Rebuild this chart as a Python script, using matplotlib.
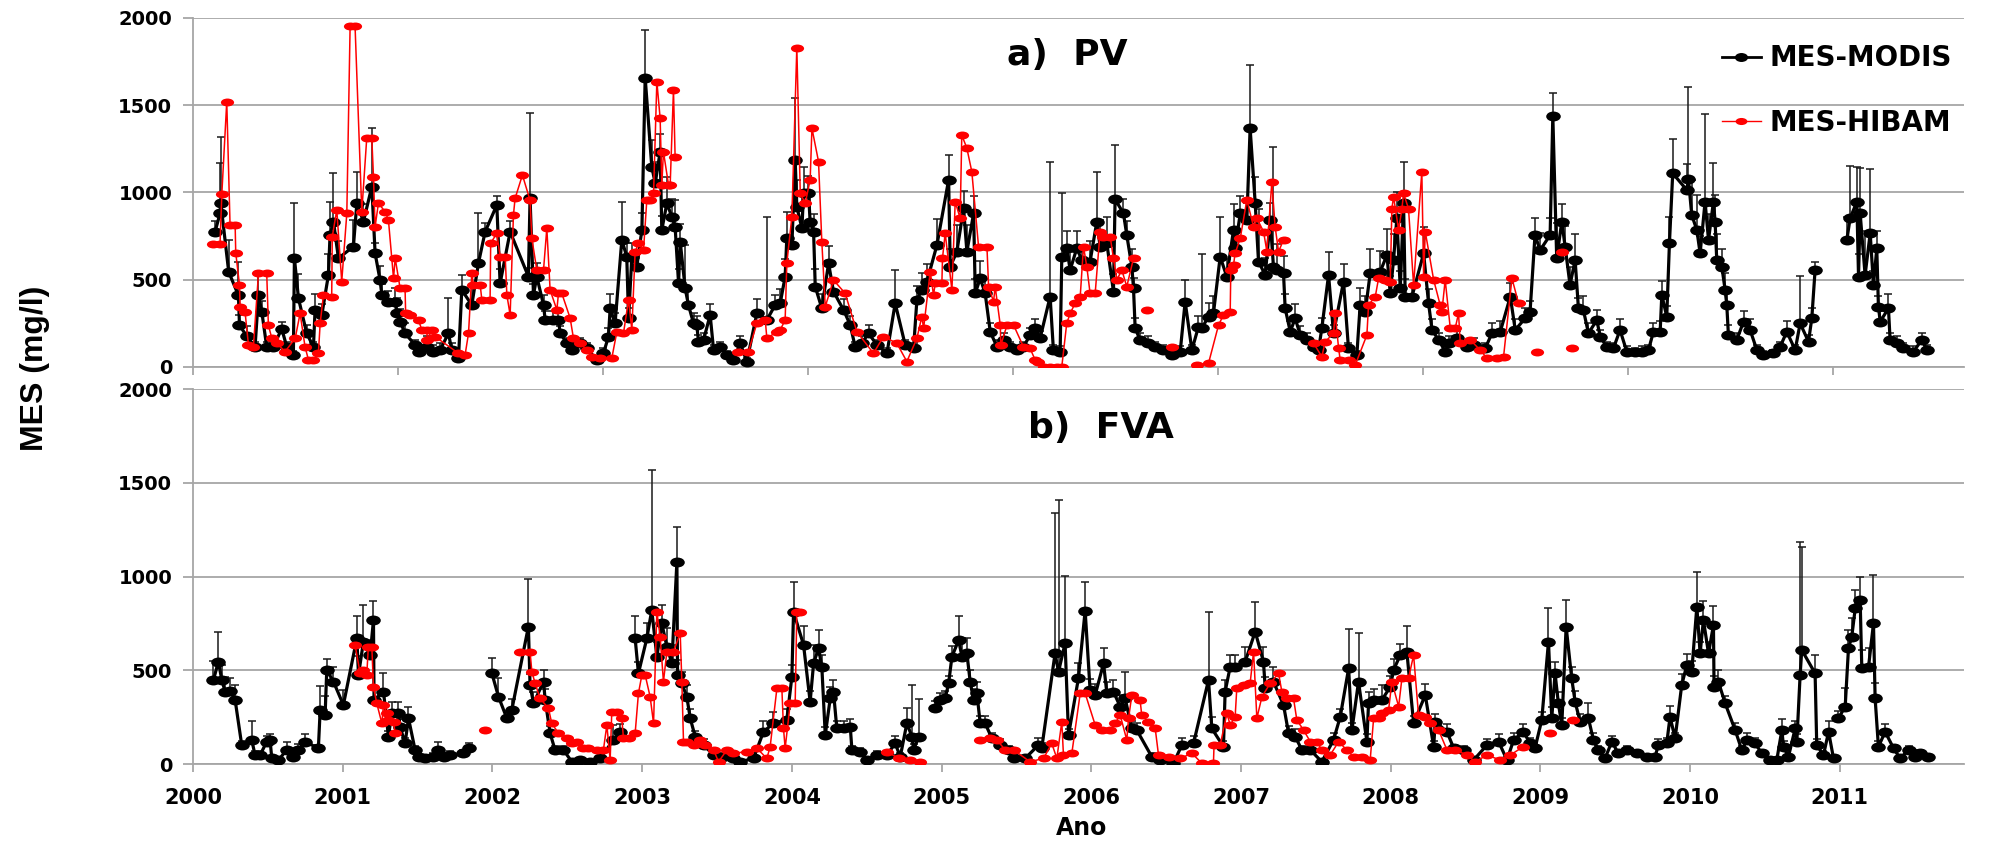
import numpy as np
import matplotlib
matplotlib.use("Agg")
import matplotlib.pyplot as plt
from matplotlib.path import Path
from matplotlib.lines import Line2D

# ---- data: (decimal year, MES mg/l, upper error) ----
# None rows mark breaks in the series line
pv_modis = [
    (2000.147, 775, 60), (2000.180, 880, 290), (2000.185, 940, 380), (2000.238, 545, 180), (2000.303, 410, 190),
    (2000.310, 240, 60), (2000.359, 175, 60), (2000.414, 115, 30), (2000.437, 410, 120), (2000.459, 317, 60),
    (2000.492, 115, 30), (2000.537, 115, 30), (2000.592, 220, 40), (2000.626, 115, 30), (2000.670, 69, 20),
    (2000.677, 623, 315), (2000.704, 393, 140), (2000.759, 193, 50), (2000.804, 115, 30), (2000.815, 327, 90),
    (2000.860, 298, 60), (2000.904, 527, 120), (2000.915, 756, 190), (2000.938, 833, 277), (2000.971, 623, 100),
    (2001.071, 690, 150), (2001.094, 938, 181), (2001.138, 833, 100), (2001.194, 1033, 335), (2001.216, 651, 60),
    (2001.249, 498, 80), (2001.261, 413, 60), (2001.305, 374, 60), (2001.350, 374, 80), (2001.361, 307, 90),
    (2001.383, 260, 70), (2001.416, 193, 60), (2001.483, 126, 30), (2001.506, 88, 20), (2001.561, 115, 60),
    (2001.606, 88, 40), (2001.650, 97, 40), (2001.706, 193, 200), (2001.728, 97, 40), (2001.773, 50, 20),
    (2001.795, 441, 86), (2001.862, 355, 110), (2001.906, 594, 286), (2001.951, 775, 50), (2002.029, 928, 50),
    (2002.051, 479, 80), (2002.118, 775, 60), (2002.240, 518, 50), (2002.251, 966, 487), (2002.274, 413, 60),
    (2002.296, 518, 80), (2002.341, 355, 60), (2002.352, 269, 50), (2002.407, 269, 50), (2002.441, 269, 40),
    (2002.452, 193, 40), (2002.497, 136, 30), (2002.530, 97, 30), (2002.586, 136, 30), (2002.630, 107, 30),
    (2002.697, 40, 20), (2002.741, 78, 30), (2002.775, 174, 50), (2002.786, 336, 80), (2002.819, 250, 60),
    (2002.864, 728, 219), (2002.897, 632, 80), (2002.909, 279, 60), (2002.931, 632, 80), (2002.964, 575, 80),
    (2002.998, 785, 100), (2003.020, 1658, 273), (2003.064, 1148, 150), (2003.087, 1052, 120), (2003.120, 1234, 100),
    (2003.131, 785, 80), (2003.165, 938, 150), (2003.198, 861, 100), (2003.220, 804, 150), (2003.243, 479, 80),
    (2003.254, 718, 100), (2003.287, 451, 250), (2003.309, 355, 100), (2003.343, 250, 60), (2003.365, 240, 50),
    (2003.376, 145, 40), (2003.410, 155, 40), (2003.454, 298, 60), (2003.477, 97, 30), (2003.521, 115, 30),
    (2003.566, 69, 20), (2003.610, 40, 20), (2003.655, 136, 40), (2003.699, 31, 20), (2003.766, 307, 80),
    (2003.833, 269, 590), (2003.888, 355, 60), (2003.922, 365, 80), (2003.955, 518, 100), (2003.966, 737, 150),
    (2004.000, 699, 150), (2004.022, 1186, 353), (2004.033, 919, 150), (2004.067, 795, 200), (2004.078, 995, 150),
    (2004.111, 995, 100), (2004.122, 833, 150), (2004.145, 775, 100), (2004.156, 460, 100), (2004.200, 336, 80),
    (2004.245, 594, 100), (2004.278, 432, 80), (2004.345, 327, 60), (2004.390, 240, 50), (2004.423, 115, 30),
    (2004.468, 136, 40), (2004.512, 193, 50), (2004.568, 126, 30), (2004.635, 78, 30), (2004.690, 365, 191),
    (2004.757, 126, 30), (2004.813, 107, 30), (2004.835, 384, 80), (2004.868, 441, 100), (2004.902, 489, 100),
    (2004.969, 699, 150), (2005.047, 1072, 142), (2005.058, 575, 100), (2005.102, 661, 150), (2005.147, 909, 100),
    (2005.169, 661, 150), (2005.214, 880, 100), (2005.225, 422, 80), (2005.258, 508, 100), (2005.291, 422, 80),
    (2005.325, 202, 50), (2005.370, 115, 40), (2005.414, 155, 40), (2005.459, 115, 30), (2005.503, 97, 30),
    (2005.547, 115, 30), (2005.591, 183, 40), (2005.625, 222, 50), (2005.658, 164, 40), (2005.725, 403, 770),
    (2005.747, 97, 30), (2005.792, 88, 30), (2005.803, 632, 367), (2005.836, 680, 100), (2005.859, 556, 100),
    (2005.903, 680, 100), (2005.937, 613, 80), (2005.992, 604, 120), (2006.037, 833, 282), (2006.059, 690, 150),
    (2006.104, 709, 150), (2006.148, 432, 100), (2006.159, 961, 311), (2006.215, 880, 80), (2006.237, 756, 80),
    (2006.271, 575, 100), (2006.282, 451, 60), (2006.293, 222, 60), (2006.326, 155, 40), (2006.382, 136, 40),
    (2006.427, 115, 30), (2006.482, 97, 30), (2006.538, 69, 20), (2006.594, 88, 30), (2006.627, 374, 125),
    (2006.672, 97, 30), (2006.716, 231, 60), (2006.738, 222, 424), (2006.783, 288, 80), (2006.816, 307, 100),
    (2006.861, 632, 229), (2006.905, 518, 100), (2006.950, 785, 150), (2006.961, 680, 100), (2006.995, 880, 100),
    (2007.039, 842, 100), (2007.061, 1368, 363), (2007.095, 938, 150), (2007.117, 604, 300), (2007.162, 527, 100),
    (2007.195, 842, 100), (2007.217, 575, 687), (2007.240, 556, 150), (2007.284, 537, 100), (2007.295, 336, 80),
    (2007.329, 202, 60), (2007.362, 279, 80), (2007.396, 183, 50), (2007.440, 155, 40), (2007.485, 115, 30),
    (2007.518, 97, 30), (2007.540, 222, 60), (2007.585, 527, 134), (2007.618, 193, 50), (2007.685, 489, 100),
    (2007.718, 107, 30), (2007.774, 69, 20), (2007.796, 355, 100), (2007.830, 317, 90), (2007.863, 537, 140),
    (2007.930, 546, 120), (2007.975, 642, 150), (2007.997, 422, 100), (2008.019, 613, 150), (2008.041, 852, 150),
    (2008.064, 451, 100), (2008.086, 938, 235), (2008.097, 403, 100), (2008.142, 403, 60), (2008.220, 651, 150),
    (2008.253, 365, 80), (2008.276, 212, 60), (2008.320, 155, 40), (2008.365, 88, 30), (2008.387, 136, 40),
    (2008.442, 164, 40), (2008.509, 115, 30), (2008.554, 126, 40), (2008.632, 107, 30), (2008.676, 193, 60),
    (2008.732, 202, 60), (2008.799, 403, 80), (2008.832, 212, 60), (2008.898, 279, 60), (2008.931, 317, 60),
    (2008.964, 756, 100), (2008.998, 669, 100), (2009.065, 756, 100), (2009.083, 1438, 134), (2009.109, 623, 200),
    (2009.143, 833, 100), (2009.165, 690, 120), (2009.198, 470, 100), (2009.232, 613, 150), (2009.254, 336, 60),
    (2009.287, 327, 80), (2009.321, 193, 60), (2009.377, 269, 60), (2009.399, 174, 40), (2009.443, 115, 30),
    (2009.488, 107, 30), (2009.532, 212, 60), (2009.577, 88, 30), (2009.633, 88, 20), (2009.677, 88, 30),
    (2009.722, 97, 30), (2009.755, 202, 50), (2009.800, 202, 60), (2009.811, 413, 80), (2009.844, 288, 60),
    (2009.862, 709, 150), (2009.884, 1110, 195), (2009.978, 1014, 150), (2009.989, 1075, 528), (2010.011, 871, 200),
    (2010.045, 785, 200), (2010.067, 651, 100), (2010.100, 947, 501), (2010.123, 728, 150), (2010.156, 947, 220),
    (2010.167, 833, 150), (2010.178, 613, 150), (2010.212, 575, 100), (2010.234, 441, 100), (2010.245, 355, 80),
    (2010.256, 183, 60), (2010.312, 155, 40), (2010.357, 260, 60), (2010.401, 212, 60), (2010.446, 97, 30),
    (2010.490, 69, 20), (2010.557, 78, 20), (2010.601, 115, 30), (2010.646, 202, 60), (2010.702, 97, 30),
    (2010.735, 250, 270), (2010.791, 145, 40), (2010.813, 279, 60), (2010.835, 556, 48), (2010.940, None, None),
    (2011.047, 728, 130), (2011.069, 852, 300), (2011.114, 947, 200), (2011.125, 518, 130), (2011.136, 880, 260),
    (2011.169, 527, 250), (2011.203, 766, 367), (2011.225, 470, 80), (2011.247, 680, 100), (2011.258, 346, 60),
    (2011.270, 260, 60), (2011.325, 336, 80), (2011.336, 155, 40), (2011.381, 136, 40), (2011.425, 107, 30),
    (2011.492, 88, 30), (2011.548, 155, 40), (2011.581, 97, 30),
]

pv_hibam = [
    (2000.136, 703), (2000.180, 703), (2000.192, 991), (2000.225, 1520), (2000.247, 814), (2000.281, 814),
    (2000.285, 655), (2000.310, 470), (2000.314, 346), (2000.347, 317), (2000.370, 126), (2000.403, 115),
    (2000.437, 537), (2000.492, 537), (2000.503, 240), (2000.526, 164), (2000.559, 136), (2000.615, 88),
    (2000.682, 164), (2000.715, 307), (2000.748, 115), (2000.771, 40), (2000.804, 40), (2000.837, 78),
    (2000.849, 250), (2000.871, 413), (2000.926, 403), (2000.930, 747), (2000.960, 900), (2000.993, 489),
    (2001.027, 880), (2001.049, 1954), (2001.082, 1954), (2001.127, 890), (2001.160, 1310), (2001.194, 1310),
    (2001.205, 1090), (2001.216, 804), (2001.238, 938), (2001.283, 890), (2001.305, 842), (2001.339, 508),
    (2001.350, 623), (2001.383, 451), (2001.416, 451), (2001.420, 307), (2001.450, 298), (2001.506, 269),
    (2001.528, 212), (2001.561, 212), (2001.565, 155), (2001.595, 212), (2001.617, 174), (2001.773, 78),
    (2001.817, 69), (2001.840, 193), (2001.862, 537), (2001.873, 470), (2001.918, 470), (2001.929, 384),
    (2001.984, 384), (2001.988, 709), (2002.029, 766), (2002.051, 632), (2002.085, 632), (2002.096, 413),
    (2002.118, 298), (2002.140, 871), (2002.151, 966), (2002.200, 1100), (2002.251, 955), (2002.263, 737),
    (2002.296, 556), (2002.341, 556), (2002.363, 795), (2002.385, 441), (2002.430, 327), (2002.441, 422),
    (2002.463, 422), (2002.519, 279), (2002.541, 164), (2002.586, 136), (2002.630, 97), (2002.664, 59),
    (2002.719, 50), (2002.797, 50), (2002.831, 202), (2002.875, 193), (2002.909, 384), (2002.931, 212),
    (2002.953, 661), (2002.975, 709), (2003.009, 670), (2003.031, 957), (2003.053, 957), (2003.076, 995),
    (2003.098, 1635), (2003.120, 1425), (2003.131, 1043), (2003.142, 1234), (2003.176, 1043), (2003.187, 1043),
    (2003.209, 1587), (2003.220, 1205), (2003.400, None),
    (2003.643, 88), (2003.710, 88), (2003.766, 250), (2003.822, 269), (2003.833, 164), (2003.900, 202),
    (2003.922, 212), (2003.955, 269), (2003.966, 594), (2004.000, 861), (2004.033, 1830), (2004.056, 995),
    (2004.089, 938), (2004.122, 1072), (2004.134, 1368), (2004.178, 1177), (2004.200, 718), (2004.223, 346),
    (2004.278, 498), (2004.356, 422), (2004.434, 202), (2004.545, 78), (2004.612, 174), (2004.701, 136),
    (2004.768, 31), (2004.835, 164), (2004.868, 288), (2004.880, 222), (2004.924, 546), (2004.946, 413),
    (2004.958, 479), (2005.002, 479), (2005.006, 623), (2005.024, 766), (2005.069, 441), (2005.091, 947),
    (2005.124, 852), (2005.135, 1329), (2005.169, 1253), (2005.202, 1119), (2005.247, 689), (2005.303, 689),
    (2005.314, 460), (2005.347, 374), (2005.358, 460), (2005.392, 240), (2005.396, 126), (2005.437, 240),
    (2005.481, 240), (2005.547, 115), (2005.591, 107), (2005.625, 40), (2005.647, 31), (2005.681, 2),
    (2005.725, 2), (2005.770, 2), (2005.803, 2), (2005.836, 250), (2005.859, 307), (2005.892, 365),
    (2005.926, 403), (2005.948, 690), (2005.970, 575), (2005.992, 422), (2006.026, 422), (2006.059, 775),
    (2006.081, 747), (2006.126, 747), (2006.148, 623), (2006.171, 499), (2006.204, 556), (2006.237, 460),
    (2006.282, 623), (2006.330, None), (2006.371, 327), (2006.450, None), (2006.538, 115), (2006.620, None),
    (2006.705, 11), (2006.783, 21), (2006.850, 240), (2006.883, 298), (2006.928, 317), (2006.932, 556),
    (2006.950, 585), (2006.961, 651), (2006.995, 737), (2007.039, 957), (2007.084, 804), (2007.106, 852),
    (2007.151, 775), (2007.173, 661), (2007.206, 1060), (2007.228, 804), (2007.251, 661), (2007.284, 728),
    (2007.380, None),
    (2007.485, 136), (2007.540, 59), (2007.563, 145), (2007.618, 193), (2007.629, 307), (2007.652, 107),
    (2007.663, 40), (2007.719, 40), (2007.763, 11), (2007.841, 183), (2007.852, 355), (2007.897, 403),
    (2007.919, 508), (2007.964, 499), (2007.997, 489), (2008.008, 907), (2008.019, 976), (2008.053, 785),
    (2008.075, 907), (2008.086, 995), (2008.119, 907), (2008.153, 470), (2008.208, 1119), (2008.220, 518),
    (2008.231, 775), (2008.287, 499), (2008.331, 355), (2008.342, 317), (2008.364, 499), (2008.398, 222),
    (2008.431, 222), (2008.453, 307), (2008.465, 136), (2008.531, 155), (2008.598, 97), (2008.643, 50),
    (2008.709, 50), (2008.754, 59), (2008.810, 508), (2008.854, 365), (2008.900, None), (2008.976, 88),
    (2009.050, None), (2009.143, 661), (2009.180, None), (2009.209, 107),
]

fva_modis = [
    (2000.136, 448, 100), (2000.169, 546, 160), (2000.192, 448, 80), (2000.214, 386, 80), (2000.247, 391, 70),
    (2000.281, 341, 80), (2000.325, 101, 20), (2000.392, 128, 100), (2000.414, 48, 20), (2000.448, 48, 20),
    (2000.492, 119, 30), (2000.514, 128, 30), (2000.526, 30, 10), (2000.570, 21, 10), (2000.626, 75, 40),
    (2000.670, 39, 20), (2000.704, 75, 30), (2000.748, 119, 40), (2000.837, 84, 20), (2000.849, 288, 130),
    (2000.882, 261, 100), (2000.893, 501, 60), (2000.938, 439, 80), (2001.004, 315, 80), (2001.094, 670, 120),
    (2001.105, 475, 100), (2001.138, 652, 196), (2001.183, 581, 80), (2001.205, 768, 103), (2001.209, 341, 60),
    (2001.272, 386, 100), (2001.305, 146, 30), (2001.327, 270, 60), (2001.372, 270, 60), (2001.383, 199, 40),
    (2001.416, 110, 30), (2001.439, 244, 60), (2001.483, 75, 20), (2001.506, 39, 10), (2001.550, 30, 10),
    (2001.606, 39, 20), (2001.639, 75, 40), (2001.673, 39, 20), (2001.717, 48, 20), (2001.760, None, None),
    (2001.806, 57, 20), (2001.840, 84, 30), (2001.920, None, None),
    (2001.996, 484, 80), (2002.040, 359, 100), (2002.096, 244, 40), (2002.129, 288, 60), (2002.240, 733, 254),
    (2002.251, 421, 60), (2002.274, 324, 60), (2002.341, 439, 60), (2002.352, 341, 60), (2002.385, 164, 40),
    (2002.418, 75, 20), (2002.474, 75, 20), (2002.530, 12, 10), (2002.586, 21, 10), (2002.652, 12, 10),
    (2002.719, 30, 10), (2002.808, 128, 80), (2002.853, 172, 40), (2002.900, None, None),
    (2002.953, 670, 120), (2002.975, 484, 60), (2003.031, 670, 80), (2003.064, 821, 747), (2003.098, 572, 80),
    (2003.131, 750, 100), (2003.165, 626, 100), (2003.198, 537, 100), (2003.232, 1079, 183), (2003.236, 475, 80),
    (2003.265, 430, 60), (2003.298, 359, 60), (2003.321, 244, 50), (2003.354, 146, 30), (2003.410, 101, 30),
    (2003.477, 48, 20), (2003.532, 39, 20), (2003.610, 30, 10), (2003.655, 12, 10), (2003.744, 30, 20),
    (2003.810, 172, 60), (2003.877, 217, 60), (2003.966, 235, 60), (2004.000, 466, 60), (2004.011, 812, 161),
    (2004.078, 635, 100), (2004.122, 332, 60), (2004.145, 537, 100), (2004.178, 617, 100), (2004.200, 519, 60),
    (2004.223, 155, 40), (2004.256, 350, 60), (2004.278, 386, 60), (2004.300, 190, 40), (2004.345, 190, 40),
    (2004.390, 199, 40), (2004.401, 75, 20), (2004.457, 66, 20), (2004.501, 21, 10), (2004.568, 48, 20),
    (2004.635, 48, 20), (2004.690, 110, 40), (2004.724, 39, 20), (2004.768, 217, 80), (2004.802, 146, 275),
    (2004.813, 75, 30), (2004.846, 146, 200), (2004.900, None, None),
    (2004.958, 297, 40), (2004.991, 341, 40), (2005.024, 350, 40), (2005.047, 430, 40), (2005.069, 572, 60),
    (2005.114, 661, 130), (2005.136, 572, 100), (2005.169, 590, 80), (2005.191, 439, 60), (2005.214, 341, 60),
    (2005.236, 377, 60), (2005.258, 217, 40), (2005.291, 217, 40), (2005.336, 137, 30), (2005.391, 101, 30),
    (2005.447, 75, 20), (2005.481, 30, 10), (2005.558, 30, 10), (2005.647, 101, 40), (2005.669, 84, 30),
    (2005.758, 590, 747), (2005.781, 492, 916), (2005.825, 644, 360), (2005.848, 155, 30), (2005.914, 457, 80),
    (2005.959, 818, 151), (2005.992, 395, 60), (2006.026, 368, 60), (2006.082, 537, 80), (2006.104, 377, 60),
    (2006.148, 386, 60), (2006.193, 306, 60), (2006.226, 350, 140), (2006.271, 190, 40), (2006.304, 181, 40),
    (2006.404, 39, 20), (2006.460, 21, 10), (2006.549, 4, 10), (2006.605, 101, 40), (2006.683, 110, 40),
    (2006.783, 448, 365), (2006.805, 190, 60), (2006.883, 92, 30), (2006.894, 386, 60), (2006.928, 519, 60),
    (2006.961, 519, 60), (2007.028, 546, 80), (2007.095, 706, 160), (2007.150, 546, 80), (2007.162, 404, 60),
    (2007.217, 439, 80), (2007.284, 315, 60), (2007.318, 164, 40), (2007.362, 146, 40), (2007.407, 75, 20),
    (2007.463, 75, 20), (2007.540, 12, 10), (2007.618, 128, 40), (2007.663, 252, 40), (2007.719, 510, 208),
    (2007.741, 181, 40), (2007.785, 439, 258), (2007.841, 119, 40), (2007.852, 324, 60), (2007.886, 341, 60),
    (2007.941, 341, 80), (2007.997, 412, 60), (2008.019, 501, 60), (2008.064, 581, 60), (2008.108, 599, 139),
    (2008.153, 217, 40), (2008.231, 368, 60), (2008.287, 93, 30), (2008.298, 226, 40), (2008.376, 172, 40),
    (2008.421, 84, 20), (2008.487, 75, 20), (2008.554, 21, 10), (2008.643, 101, 30), (2008.721, 119, 40),
    (2008.777, 21, 10), (2008.821, 128, 40), (2008.887, 172, 40), (2008.931, 110, 30), (2008.964, 84, 20),
    (2009.009, 235, 40), (2009.054, 652, 178), (2009.076, 244, 60), (2009.098, 484, 60), (2009.120, 324, 60),
    (2009.143, 208, 40), (2009.172, 733, 142), (2009.209, 457, 60), (2009.232, 332, 60), (2009.265, 226, 40),
    (2009.321, 244, 80), (2009.354, 128, 40), (2009.388, 75, 20), (2009.432, 30, 10), (2009.477, 119, 30),
    (2009.521, 57, 20), (2009.577, 75, 20), (2009.644, 57, 20), (2009.711, 39, 10), (2009.766, 39, 10),
    (2009.788, 101, 30), (2009.844, 110, 30), (2009.866, 252, 60), (2009.900, 137, 30), (2009.944, 421, 60),
    (2009.978, 528, 60), (2010.011, 492, 60), (2010.045, 839, 187), (2010.067, 590, 60), (2010.089, 768, 100),
    (2010.123, 590, 60), (2010.156, 741, 100), (2010.160, 412, 60), (2010.189, 439, 60), (2010.234, 324, 40),
    (2010.301, 181, 40), (2010.345, 75, 20), (2010.379, 128, 40), (2010.434, 110, 30), (2010.479, 57, 20),
    (2010.535, 21, 10), (2010.579, 21, 10), (2010.613, 181, 60), (2010.624, 92, 30), (2010.657, 39, 10),
    (2010.702, 190, 40), (2010.713, 119, 40), (2010.735, 475, 711), (2010.746, 608, 551), (2010.835, 484, 97),
    (2010.846, 101, 30), (2010.891, 48, 20), (2010.925, 172, 60), (2010.958, 30, 10), (2010.980, None, None),
    (2010.991, 244, 40), (2011.036, 306, 100), (2011.058, 617, 100), (2011.080, 679, 100), (2011.103, 830, 100),
    (2011.136, 875, 124), (2011.147, 510, 100), (2011.192, 519, 100), (2011.225, 750, 258), (2011.236, 350, 80),
    (2011.258, 92, 30), (2011.303, 172, 40), (2011.359, 84, 20), (2011.403, 30, 10), (2011.459, 75, 20),
    (2011.503, 39, 10), (2011.537, 57, 20), (2011.592, 39, 10),
]

fva_hibam = [
    (2001.082, 635), (2001.116, 484), (2001.138, 501), (2001.160, 475), (2001.171, 626), (2001.194, 626),
    (2001.205, 412), (2001.227, 324), (2001.261, 217), (2001.272, 315), (2001.294, 270), (2001.305, 235),
    (2001.339, 226), (2001.350, 164), (2001.600, None), (2001.951, 181), (2002.100, None),
    (2002.185, 599), (2002.251, 599), (2002.263, 493), (2002.285, 430), (2002.318, 350), (2002.374, 297),
    (2002.396, 217), (2002.441, 164), (2002.497, 137), (2002.530, 110), (2002.563, 119), (2002.608, 84),
    (2002.641, 84), (2002.697, 75), (2002.741, 75), (2002.764, 208), (2002.786, 21), (2002.797, 279),
    (2002.831, 279), (2002.864, 244), (2002.875, 137), (2002.909, 137), (2002.953, 164), (2002.975, 377),
    (2002.998, 475), (2003.020, 475), (2003.053, 359), (2003.076, 217), (2003.098, 812), (2003.120, 679),
    (2003.142, 439), (2003.165, 599), (2003.209, 599), (2003.254, 697), (2003.265, 439), (2003.276, 119),
    (2003.298, 119), (2003.343, 101), (2003.387, 128), (2003.421, 101), (2003.477, 75), (2003.510, 12),
    (2003.566, 75), (2003.610, 57), (2003.699, 66), (2003.766, 84), (2003.833, 30), (2003.855, 93),
    (2003.900, 404), (2003.933, 404), (2003.944, 190), (2003.955, 84), (2003.989, 324), (2004.022, 324),
    (2004.033, 812), (2004.056, 812), (2004.300, None),
    (2004.635, 66), (2004.713, 30), (2004.790, 21), (2004.857, 12), (2005.000, None),
    (2005.258, 128), (2005.325, 137), (2005.370, 128), (2005.425, 75), (2005.481, 75), (2005.591, 12),
    (2005.681, 30), (2005.736, 110), (2005.770, 30), (2005.803, 226), (2005.814, 48), (2005.870, 57),
    (2005.926, 377), (2005.959, 377), (2006.026, 208), (2006.070, 181), (2006.126, 181), (2006.159, 217),
    (2006.193, 261), (2006.237, 128), (2006.249, 244), (2006.271, 368), (2006.326, 341), (2006.337, 261),
    (2006.382, 226), (2006.427, 190), (2006.449, 48), (2006.516, 39), (2006.594, 30), (2006.672, 57),
    (2006.739, 4), (2006.816, 4), (2006.820, 101), (2006.861, 101), (2006.906, 270), (2006.928, 208),
    (2006.961, 252), (2006.972, 404), (2007.017, 421), (2007.061, 430), (2007.084, 599), (2007.106, 244),
    (2007.140, 359), (2007.195, 430), (2007.251, 484), (2007.273, 386), (2007.306, 350), (2007.351, 350),
    (2007.373, 235), (2007.418, 181), (2007.463, 119), (2007.507, 119), (2007.540, 75), (2007.596, 48),
    (2007.652, 119), (2007.707, 75), (2007.752, 39), (2007.808, 39), (2007.863, 21), (2007.886, 244),
    (2007.919, 244), (2007.941, 270), (2007.986, 288), (2008.008, 439), (2008.053, 306), (2008.075, 457),
    (2008.119, 457), (2008.153, 581), (2008.186, 261), (2008.231, 252), (2008.264, 217), (2008.320, 181),
    (2008.376, 75), (2008.431, 75), (2008.509, 48), (2008.565, 12), (2008.643, 48), (2008.732, 21),
    (2008.799, 48), (2008.887, 93), (2008.980, None), (2009.065, 164), (2009.150, None), (2009.221, 235),
]

year_ticks = list(range(2000, 2012))
y_ticks = [0, 500, 1000, 1500, 2000]

# ---- style ----
GRID = "#a6a6a6"
circ = Path.unit_circle()
ell_black = Path(circ.vertices * [1.0, 0.68], circ.codes)
ell_red = Path(circ.vertices * [1.0, 0.60], circ.codes)


def draw_panel(ax, modis, hibam):
    m = np.array(modis, dtype=float)
    h = np.array(hibam, dtype=float)
    ax.errorbar(m[:, 0], m[:, 1], yerr=[np.zeros(len(m)), m[:, 2]], fmt="none",
                ecolor="#1a1a1a", elinewidth=1.1, capsize=3, capthick=1.1, zorder=2)
    ax.plot(m[:, 0], m[:, 1], "-", color="black", lw=2.3, marker=ell_black, ms=10.5,
            mfc="black", mec="black", mew=0, zorder=3)
    ax.plot(h[:, 0], h[:, 1], "-", color="red", lw=1.1, marker=ell_red, ms=9.5,
            mfc="red", mec="red", mew=0, zorder=4)
    ax.set_xlim(2000, 2011.83)
    ax.set_ylim(0, 2000)
    ax.set_yticks(y_ticks)
    ax.yaxis.grid(True, color=GRID, lw=1.3)
    ax.set_axisbelow(True)
    for s in ("top", "right"):
        ax.spines[s].set_visible(False)
    for s in ("left", "bottom"):
        ax.spines[s].set_color(GRID)
        ax.spines[s].set_linewidth(1.3)
    ax.tick_params(axis="y", length=7, width=1.3, color=GRID, pad=8, labelsize=14)
    ax.tick_params(axis="x", length=6, width=1.3, color=GRID, pad=11, labelsize=15)


fig = plt.figure(figsize=(20.07, 8.43), dpi=100)
ax1 = fig.add_axes([0.0962, 0.5647, 0.8824, 0.4140])
ax2 = fig.add_axes([0.0962, 0.0937, 0.8824, 0.4448])

draw_panel(ax1, pv_modis, pv_hibam)
draw_panel(ax2, fva_modis, fva_hibam)

# top panel: unlabeled ticks every 500 days, as in the source chart
ax1.set_xticks(2000 + np.arange(0, 4500, 500) / 365.25)
ax1.set_xticklabels([])
ax2.set_xticks(year_ticks)
ax2.set_xticklabels([str(y) for y in year_ticks])
for lab in ax2.get_xticklabels() + ax1.get_yticklabels() + ax2.get_yticklabels():
    lab.set_fontweight("bold")

fig.text(1067 / 2007, 1 - 55 / 843, "a)  PV", ha="center", va="center",
         fontsize=26, fontweight="bold")
fig.text(1101 / 2007, 1 - 428 / 843, "b)  FVA", ha="center", va="center",
         fontsize=26, fontweight="bold")

fig.text(35 / 2007, 1 - 368 / 843, "MES (mg/l)", rotation=90, ha="center", va="center",
         fontsize=23, fontweight="bold", family=["Liberation Sans", "DejaVu Sans"])
fig.text(1082 / 2007, 1 - 828 / 843, "Ano", ha="center", va="center",
         fontsize=17, fontweight="bold")

handles = [
    Line2D([], [], color="black", lw=2.0, marker=ell_black, ms=9.5, mfc="black", mew=0),
    Line2D([], [], color="red", lw=1.0, marker=ell_red, ms=8.5, mfc="red", mew=0),
]
fig.legend(handles, ["MES-MODIS", "MES-HIBAM"], loc="center left",
           bbox_to_anchor=(1722 / 2007, 1 - 90.5 / 843), frameon=False,
           prop={"size": 20, "weight": "bold"}, handlelength=1.4, handletextpad=0.3,
           labelspacing=1.3, borderpad=0, borderaxespad=0)

fig.savefig("out.png", dpi=100)
